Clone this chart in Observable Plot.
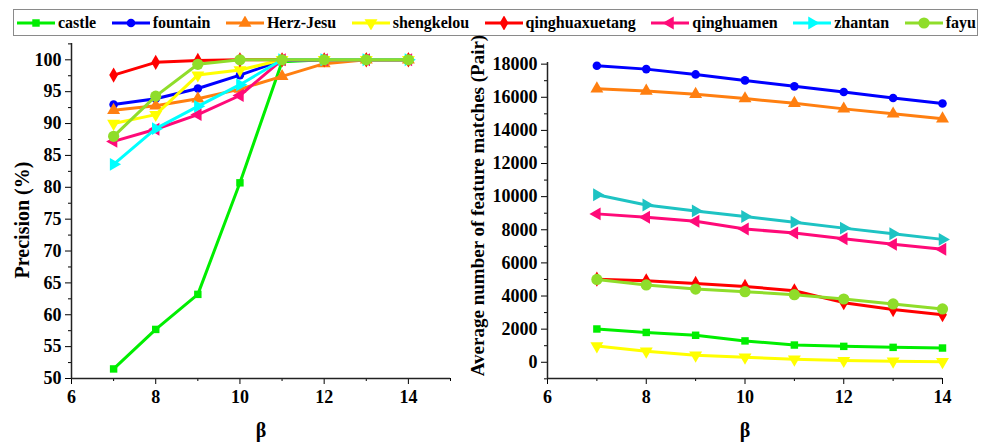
<!DOCTYPE html>
<html><head><meta charset="utf-8">
<script src="https://cdn.jsdelivr.net/npm/d3@7"></script>
<script src="https://cdn.jsdelivr.net/npm/@observablehq/plot@0.6"></script>
<style>
body{margin:0;background:#fff;font-family:"Liberation Serif","DejaVu Serif","Times New Roman",serif;font-weight:bold;color:#000;}
#wrap{width:981px;height:447px;position:relative;overflow:hidden;}
#legend{position:absolute;left:13px;top:9px;width:965px;height:27px;box-sizing:border-box;border:1px solid #8a8a8a;display:flex;align-items:center;justify-content:space-between;padding:0 1px 0 2px;font-size:16px;}
.item{display:flex;align-items:center;gap:2px;white-space:nowrap;}
.item svg{display:block;}
#left{position:absolute;left:0;top:40px;}
#right{position:absolute;left:455px;top:40px;}
</style></head>
<body><div id="wrap"><div id="legend"></div><div id="left"></div><div id="right"></div></div>
<script>
// ---------- data ----------
const betas = [7, 8, 9, 10, 11, 12, 13, 14];
const seriesNames = ["castle", "fountain", "Herz-Jesu", "shengkelou", "qinghuaxuetang", "qinghuamen", "zhantan", "fayu"];
const leftColors  = ["#00ee00", "#0000ff", "#ff7f10", "#ffff00", "#ff0000", "#ff0a78", "#00ffff", "#8fdd2a"];
const rightColors = ["#00ee00", "#0000ff", "#ff7f10", "#ffff00", "#ff0000", "#ff0a78", "#1ec3c3", "#8fdd2a"];

// Precision (%)
const precCastle         = [51.5, 57.7, 63.2, 80.7, 99.7, 100, 100, 100];
const precFountain       = [93.0, 93.9, 95.5, 97.6, 99.9, 100, 100, 100];
const precHerzJesu       = [92.1, 92.8, 93.9, 95.4, 97.4, 99.4, 100, 100];
const precShengkelou     = [90.0, 91.4, 97.6, 98.4, 100, 100, 100, 100];
const precQinghuaxuetang = [97.6, 99.6, 99.9, 100, 100, 100, 100, 100];
const precQinghuamen     = [87.2, 89.1, 91.4, 94.4, 100, 100, 100, 100];
const precZhantan        = [83.6, 89.2, 92.7, 96.1, 100, 100, 100, 100];
const precFayu           = [88.0, 94.3, 99.3, 100, 100, 100, 100, 100];

// Average number of feature matches (Pair)
const matchCastle         = [2010, 1800, 1630, 1290, 1040, 960, 900, 860];
const matchFountain       = [17900, 17700, 17380, 17020, 16660, 16320, 15960, 15620];
const matchHerzJesu       = [16520, 16380, 16180, 15920, 15640, 15300, 15000, 14700];
const matchShengkelou     = [980, 660, 420, 300, 180, 100, 60, 30];
const matchQinghuaxuetang = [5020, 4920, 4760, 4580, 4320, 3600, 3180, 2870];
const matchQinghuamen     = [8960, 8760, 8520, 8050, 7800, 7460, 7120, 6820];
const matchZhantan        = [10120, 9500, 9140, 8800, 8460, 8100, 7760, 7420];
const matchFayu           = [5000, 4670, 4420, 4260, 4080, 3820, 3520, 3220];

const precValues  = [precCastle, precFountain, precHerzJesu, precShengkelou, precQinghuaxuetang, precQinghuamen, precZhantan, precFayu];
const matchValues = [matchCastle, matchFountain, matchHerzJesu, matchShengkelou, matchQinghuaxuetang, matchQinghuamen, matchZhantan, matchFayu];

const leftYTicks = [50, 55, 60, 65, 70, 75, 80, 85, 90, 95, 100];
const leftYMinor = [52.5, 57.5, 62.5, 67.5, 72.5, 77.5, 82.5, 87.5, 92.5, 97.5, 102.5];
const leftXTicks = [6, 8, 10, 12, 14];
const leftXMinor = [7, 9, 11, 13, 15];
const rightYTicks = [0, 2000, 4000, 6000, 8000, 10000, 12000, 14000, 16000, 18000];
const rightYMinor = [-1000, 1000, 3000, 5000, 7000, 9000, 11000, 13000, 15000, 17000];
const rightXTicks = [6, 8, 10, 12, 14];
const rightXMinor = [7, 9, 11, 13];

// ---------- symbols ----------
function rotTri(deg) {
  const t = deg * Math.PI / 180, c = Math.cos(t), s = Math.sin(t), r3 = Math.sqrt(3);
  return {draw(ctx, size) {
    const y = -Math.sqrt(size / (r3 * 3));
    const pts = [[0, 2 * y], [-r3 * y, -y], [r3 * y, -y]].map(([px, py]) => [px * c - py * s, px * s + py * c]);
    ctx.moveTo(pts[0][0], pts[0][1]); ctx.lineTo(pts[1][0], pts[1][1]); ctx.lineTo(pts[2][0], pts[2][1]); ctx.closePath();
  }};
}
const symbols = [d3.symbolSquare, d3.symbolCircle, d3.symbolTriangle, rotTri(180), d3.symbolDiamond, rotTri(-90), rotTri(90), d3.symbolCircle];
const radii = [4.2, 4.3, 4.8, 4.8, 4.6, 4.8, 4.8, 5.6];

// ---------- legend ----------
const legend = document.getElementById("legend");
seriesNames.forEach((name, i) => {
  const item = document.createElement("div");
  item.className = "item";
  const size = radii[i] * radii[i] * Math.PI;
  const p = d3.symbol(symbols[i], size)();
  item.innerHTML = `<svg width="40" height="14" viewBox="0 0 40 14"><line x1="1" y1="7" x2="39" y2="7" stroke="${leftColors[i]}" stroke-width="3"/><path transform="translate(20,7)" d="${p}" fill="${leftColors[i]}"/></svg><span>${name}</span>`;
  legend.appendChild(item);
});

// ---------- charts ----------
const FONT = "'Liberation Serif', 'DejaVu Serif', 'Times New Roman', serif";
function chart({values, colors, width, height, marginLeft, marginRight, marginTop, marginBottom,
                xDomain, yDomain, xTicks, xMinor, yTicks, yMinor, yLabel, yLabelSize, yLabelDx, yLabelDy, yFormat}) {
  const marks = [
    Plot.axisY({ticks: yTicks, tickSize: 6, tickPadding: 4, label: null, tickFormat: yFormat, fontSize: 18}),
    Plot.axisY({ticks: yMinor, tickSize: 3, label: null, fill: "none", tickFormat: () => ""}),
    Plot.axisX({ticks: xTicks, tickSize: 6, tickPadding: 6, label: null, fontSize: 18}),
    Plot.axisX({ticks: xMinor, tickSize: 3, label: null, fill: "none", tickFormat: () => ""}),
    Plot.ruleX([xDomain[0]], {stroke: "#222", strokeWidth: 1.5}),
    Plot.ruleY([yDomain[0]], {stroke: "#222", strokeWidth: 1.5}),
  ];
  values.forEach((vals, i) => {
    const rows = betas.map((b, j) => ({beta: b, value: vals[j]}));
    marks.push(Plot.line(rows, {x: "beta", y: "value", stroke: colors[i], strokeWidth: 3}));
    marks.push(Plot.dot(rows, {x: "beta", y: "value", fill: colors[i], stroke: "none", symbol: symbols[i], r: radii[i]}));
  });
  marks.push(Plot.text([yLabel], {text: d => d, frameAnchor: "left", textAnchor: "middle", lineAnchor: "middle", rotate: -90, dx: -yLabelDx, dy: yLabelDy, fontSize: yLabelSize, fontWeight: "bold", fill: "#000"}));
  marks.push(Plot.text(["β"], {text: d => d, frameAnchor: "bottom", textAnchor: "middle", lineAnchor: "middle", dy: 52, fontSize: 20, fontWeight: "bold", fill: "#000"}));
  return Plot.plot({
    width, height, marginLeft, marginRight, marginTop, marginBottom,
    x: {domain: xDomain},
    y: {domain: yDomain},
    style: {fontFamily: FONT, fontWeight: "bold", fontSize: "18px", color: "#000", background: "transparent", overflow: "visible"},
    marks
  });
}

document.getElementById("left").appendChild(chart({
  values: precValues, colors: leftColors,
  width: 455, height: 407, marginLeft: 71, marginRight: 5, marginTop: 3, marginBottom: 69,
  xDomain: [6, 15], yDomain: [50, 102.56],
  xTicks: leftXTicks, xMinor: leftXMinor, yTicks: leftYTicks, yMinor: leftYMinor,
  yLabel: "Precision (%)", yLabelSize: 20, yLabelDx: 49, yLabelDy: 9, yFormat: d => String(d)
}));

document.getElementById("right").appendChild(chart({
  values: matchValues, colors: rightColors,
  width: 526, height: 407, marginLeft: 92, marginRight: 39, marginTop: 22, marginBottom: 69,
  xDomain: [6, 14], yDomain: [-980, 18100],
  xTicks: rightXTicks, xMinor: rightXMinor, yTicks: rightYTicks, yMinor: rightYMinor,
  yLabel: "Average number of feature matches (Pair)", yLabelSize: 19, yLabelDx: 70, yLabelDy: -15, yFormat: d => String(d)
}));
</script>
</body></html>
